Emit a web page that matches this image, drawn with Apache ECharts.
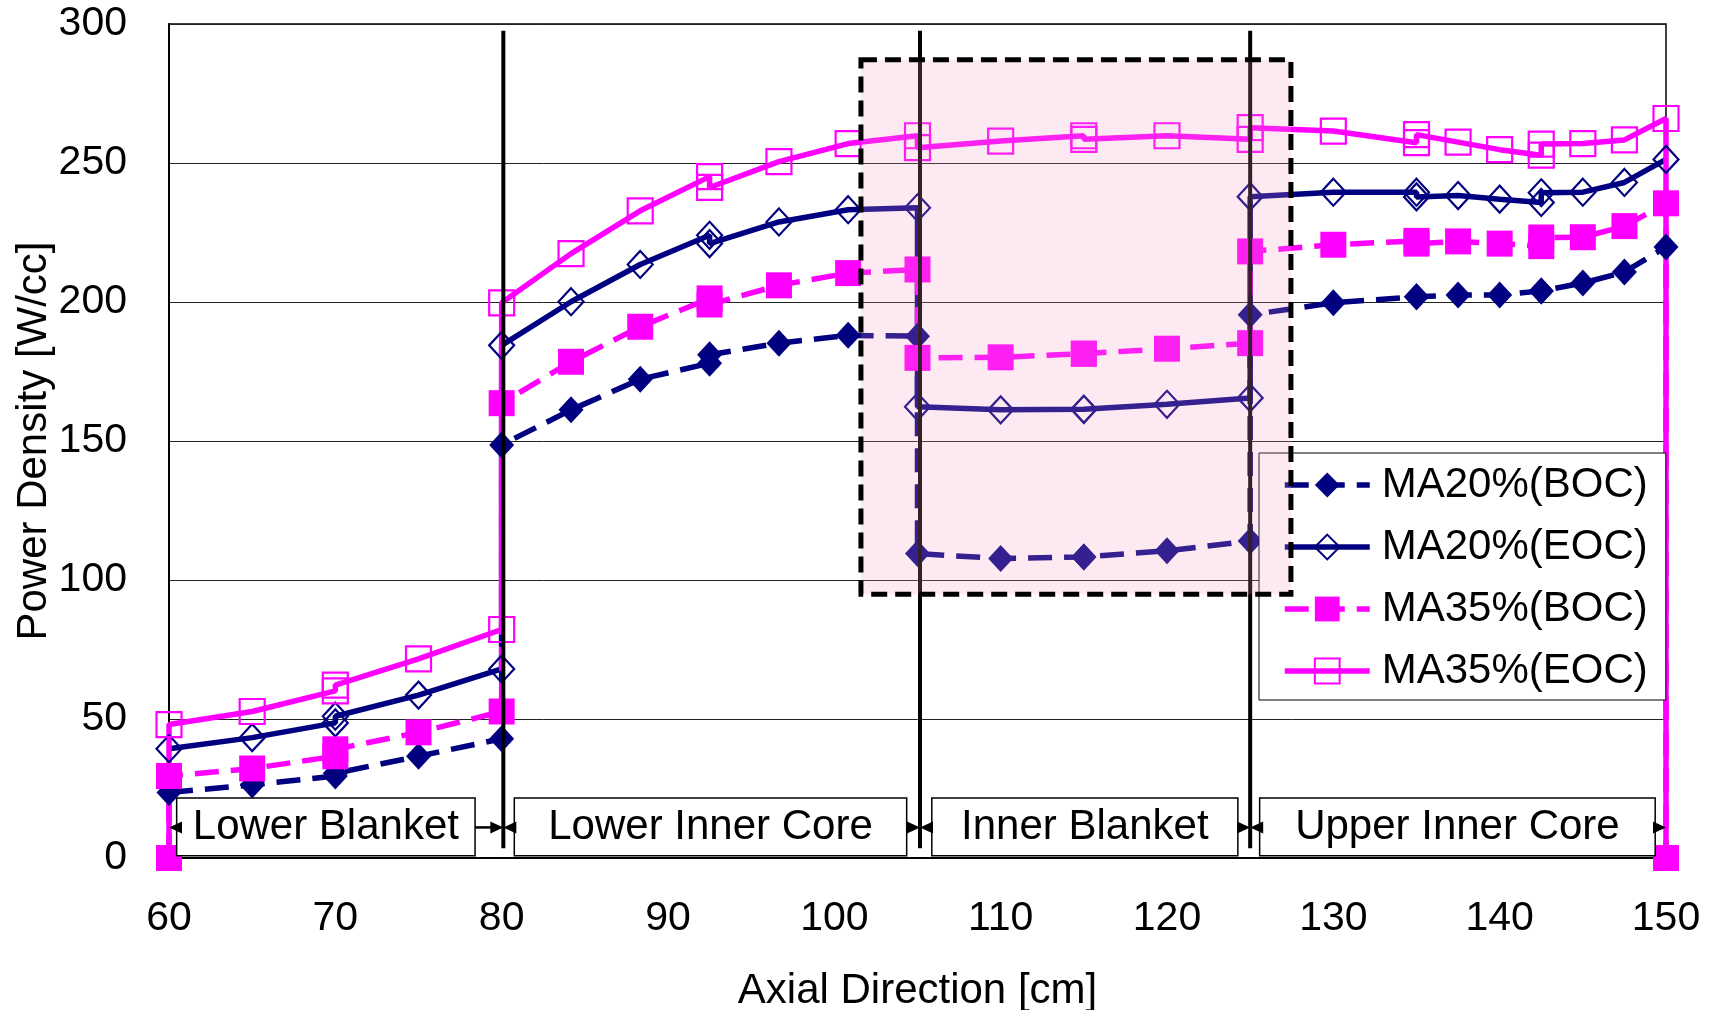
<!DOCTYPE html>
<html><head><meta charset="utf-8">
<script src="https://cdn.jsdelivr.net/npm/echarts@6/dist/echarts.min.js"></script>
<style>html,body{margin:0;padding:0;background:#fff}#c{width:1713px;height:1010px}</style>
</head><body><div id="c"></div>
<script>
// ---- data ----
const axialPos = [60,65,70,70,75,80, 80,84.17,88.33,92.5,92.5,96.67,100.83,105, 105,110,115,115,120,125, 125,130,135,135,137.5,140,142.5,142.5,145,147.5,150];
const ma20BOC = [23.6,26.3,29.5,30.5,36.6,42.9, 148.6,161.2,172.2,178,181,185.2,188,187.7, 109.5,107.7,108.3,108.3,110.5,114, 195.4,199.7,201.9,201.9,202.5,202.5,204,204,206.8,210.8,219.8];
const ma20EOC = [39.3,43.3,48.6,51,58.6,68, 184.4,200.1,213.5,224,221,228.8,233.2,233.9, 162.3,161.2,161.4,161.4,163.2,165.5, 237.9,239.5,239.5,237.8,238.3,237,235.8,239.3,239.5,243,251.3];
const ma35BOC = [29.5,32.2,36.6,39.1,45.2,52.7, 163.6,178.5,191.1,201.3,199.1,206,210.4,211.7, 179.9,180.1,181.4,181.4,183.2,185.2, 218.2,220.6,222,221,221.8,221,220.1,223.2,223.3,227.3,235.5];
const ma35EOC = [48,52.7,60.1,62.2,71.6,82.2, 199.7,217.4,232.8,245.1,241.2,250.5,257,259.8, 255.5,257.9,259.8,258.5,259.8,258.5, 262.7,261.5,257.3,260.2,257.5,254.8,252.8,256.8,257,258.3,266];
const edgePos = [60, 150];
const ma35EdgeValues = [0, 0];
const seriesNames = ['MA20%(BOC)', 'MA20%(EOC)', 'MA35%(BOC)', 'MA35%(EOC)'];
const regionNames = ['Lower Blanket', 'Lower Inner Core', 'Inner Blanket', 'Upper Inner Core'];
const regionBounds = [80.1, 105.15, 125];
const xTitle = 'Axial Direction [cm]';
const yTitle = 'Power Density [W/cc]';

// ---- layout constants ----
const FONT = '"Liberation Sans", Arial, sans-serif';
const NAVY = '#000080', MAG = '#FF00FF';
const LW = 5.5;
const regionBoxes = [[60.46, 78.4], [80.76, 104.35], [105.86, 124.26], [125.57, 149.35]];
const boxY = [0.8, 21.6], arrowY = 11;
const overlayX = [101.6, 127.45], overlayY = [94.9, 287.1];
const lineY = [3.5, 297.6];

function pairs(vals) { return axialPos.map((x, i) => [x, vals[i]]); }
const ma35BOCData = [[edgePos[0], ma35EdgeValues[0]]].concat(pairs(ma35BOC), [[edgePos[1], ma35EdgeValues[1]]]);
const ma35EOCData = [{value: [edgePos[0], ma35EdgeValues[0]], symbol: 'none'}].concat(pairs(ma35EOC), [{value: [edgePos[1], ma35EdgeValues[1]], symbol: 'none'}]);

const chart = echarts.init(document.getElementById('c'), null, {renderer: 'canvas'});
const option = {
  animation: false,
  backgroundColor: '#fff',
  grid: {left: 169, right: 47, top: 24, bottom: 152, show: true, borderColor: '#000', borderWidth: 1.5,
         containLabel: false, outerBoundsMode: 'none'},
  xAxis: {
    type: 'value', min: 60, max: 150, interval: 10,
    name: xTitle, nameLocation: 'middle', nameGap: 112,
    nameTextStyle: {fontFamily: FONT, fontSize: 42, color: '#000'},
    axisLine: {show: true, onZero: false, lineStyle: {color: '#000', width: 2}},
    axisTick: {show: false},
    axisLabel: {fontFamily: FONT, fontSize: 41, color: '#000', margin: 40},
    splitLine: {show: false}
  },
  yAxis: {
    type: 'value', min: 0, max: 300, interval: 50,
    name: yTitle, nameLocation: 'middle', nameGap: 114, nameMoveOverlap: false,
    nameTextStyle: {fontFamily: FONT, fontSize: 42, color: '#000'},
    axisLine: {show: true, lineStyle: {color: '#000', width: 2}},
    axisTick: {show: false},
    axisLabel: {fontFamily: FONT, fontSize: 41, color: '#000', margin: 42},
    splitLine: {show: true, lineStyle: {color: '#222', width: 1}}
  },
  legend: {
    orient: 'vertical', left: 1259, top: 453,
    backgroundColor: '#fff', borderColor: '#000', borderWidth: 1,
    padding: [9, 18, 6, 23], itemGap: 16, itemWidth: 85, itemHeight: 31,
    lineStyle: {width: LW},
    textStyle: {fontFamily: FONT, fontSize: 42, color: '#000', lineHeight: 46, padding: [0, 0, 0, 7]},
    data: seriesNames
  },
  series: [
    {name: seriesNames[0], type: 'line', data: pairs(ma20BOC), clip: false,
     symbol: 'diamond', symbolSize: [25, 27],
     lineStyle: {color: NAVY, width: LW, type: [24, 12]},
     itemStyle: {color: NAVY}},
    {name: seriesNames[1], type: 'line', data: pairs(ma20EOC), clip: false,
     symbol: 'diamond', symbolSize: [25, 27],
     lineStyle: {color: NAVY, width: LW},
     itemStyle: {color: 'rgba(255,255,255,0)', borderColor: NAVY, borderWidth: 2.2}},
    {name: seriesNames[2], type: 'line', data: ma35BOCData, clip: false,
     symbol: 'rect', symbolSize: 26,
     lineStyle: {color: MAG, width: LW, type: [24, 12]},
     itemStyle: {color: MAG}},
    {name: seriesNames[3], type: 'line', data: ma35EOCData, clip: false,
     symbol: 'rect', symbolSize: 25,
     lineStyle: {color: MAG, width: LW},
     itemStyle: {color: 'rgba(255,255,255,0)', borderColor: MAG, borderWidth: 2.2}}
  ]
};
chart.setOption(option);

function P(x, y) { return chart.convertToPixel({gridIndex: 0}, [x, y]); }
const els = [];
// boundary lines
regionBounds.forEach(b => {
  const a = P(b, lineY[1]), c = P(b, lineY[0]);
  els.push({type: 'line', z: 20, shape: {x1: a[0], y1: a[1], x2: c[0], y2: c[1]}, style: {stroke: '#000', lineWidth: 4}});
});
// region boxes with labels
regionBoxes.forEach((r, i) => {
  const tl = P(r[0], boxY[1]), br = P(r[1], boxY[0]);
  els.push({type: 'rect', z: 15, shape: {x: tl[0], y: tl[1], width: br[0] - tl[0], height: br[1] - tl[1]}, style: {fill: '#fff', stroke: '#000', lineWidth: 1.5}});
  els.push({type: 'text', z: 16, style: {text: regionNames[i], x: (tl[0] + br[0]) / 2, y: (tl[1] + br[1]) / 2 + 1, align: 'center', verticalAlign: 'middle', font: '42px ' + FONT, fill: '#000'}});
});
// arrows from box edges to boundaries
function arrow(fromX, toX) {
  const a = P(fromX, arrowY), b = P(toX, arrowY);
  const dir = Math.sign(b[0] - a[0]);
  els.push({type: 'line', z: 17, shape: {x1: a[0], y1: a[1], x2: b[0] - dir * 8, y2: b[1]}, style: {stroke: '#000', lineWidth: 2.5}});
  els.push({type: 'polygon', z: 17, shape: {points: [[b[0], b[1]], [b[0] - dir * 13, b[1] - 6], [b[0] - dir * 13, b[1] + 6]]}, style: {fill: '#000'}});
}
arrow(regionBoxes[0][0], 60);
arrow(regionBoxes[0][1], regionBounds[0]);
arrow(regionBoxes[1][0], regionBounds[0]);
arrow(regionBoxes[1][1], regionBounds[1]);
arrow(regionBoxes[2][0], regionBounds[1]);
arrow(regionBoxes[2][1], regionBounds[2]);
arrow(regionBoxes[3][0], regionBounds[2]);
arrow(regionBoxes[3][1], 150);
// highlighted inner-blanket overlay
const o1 = P(overlayX[0], overlayY[1]), o2 = P(overlayX[1], overlayY[0]);
els.push({type: 'rect', z: 30, shape: {x: o1[0], y: o1[1], width: o2[0] - o1[0], height: o2[1] - o1[1]},
  style: {fill: 'rgba(245,152,193,0.21)', stroke: '#000', lineWidth: 5, lineDash: [16, 8]}});
chart.setOption({graphic: {elements: els}});
</script></body></html>
